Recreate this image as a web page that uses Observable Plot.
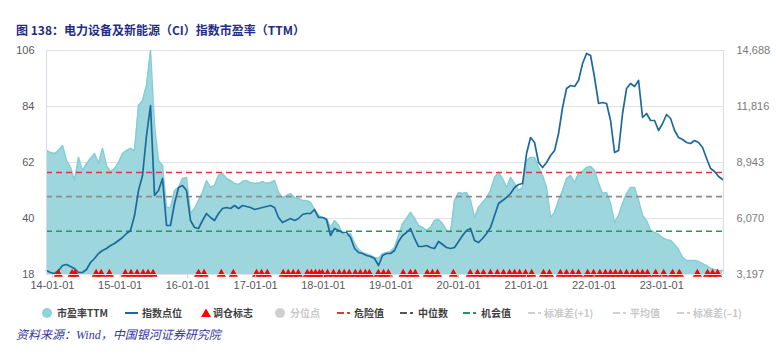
<!DOCTYPE html>
<html><head><meta charset="utf-8">
<script src="https://cdn.jsdelivr.net/npm/d3@7"></script>
<script src="https://cdn.jsdelivr.net/npm/@observablehq/plot@0.6"></script>
<style>
body{margin:0;background:#fff;}
#wrap{position:relative;width:776px;height:355px;overflow:hidden;font-family:"Noto Sans CJK SC","Liberation Sans",sans-serif;}
#title{position:absolute;left:16px;top:21px;font-size:12px;font-weight:bold;color:#1F2D86;font-family:"Noto Sans CJK SC",sans-serif;white-space:nowrap;}
#chart{position:absolute;left:0;top:40px;}
.lg{position:absolute;top:306px;font-size:10px;font-weight:600;color:#404040;white-space:nowrap;line-height:14px;}
.lg.off{color:#C8C8C8;}
.mk{position:absolute;}
#source{position:absolute;left:16px;top:325px;font-size:12px;font-style:italic;color:#3535A5;font-family:"Liberation Serif","Noto Sans CJK SC",serif;white-space:nowrap;}
</style></head>
<body><div id="wrap">
<div id="title">图 138：电力设备及新能源（CI）指数市盈率（TTM）</div>
<div id="chart"></div>
<div id="legend"></div>
<div id="source">资料来源：Wind，中国银河证券研究院</div>
</div>
<script>
// ---- data ----
const seriesStart = "2013-11-30";
const seriesStepDays = 21.58;
const peValues = [66.7,65.9,65.5,66.7,68.7,62.8,60.0,54.9,64.0,58.9,61.6,63.6,65.5,61.6,67.5,60.8,58.5,59.6,62.0,65.5,66.7,67.5,66.7,84.4,86.4,92.3,106,76.5,62.8,60.8,44.3,44.3,51.0,52.2,55.7,56.1,42.0,43.9,47.1,50.2,54.9,52.2,53.0,56.9,57.7,55.7,54.9,53.8,53.4,54.5,54.9,54.1,53.8,53.8,54.5,53.8,54.1,54.9,50.2,48.2,49.0,49.8,48.2,47.9,47.1,47.1,46.3,43.5,41.2,40.4,40.0,36.5,39.2,37.3,34.1,33.3,34.1,30.2,27.8,26.6,26.2,25.5,24.7,24.3,26.2,26.6,27.0,28.6,33.3,38.0,40.0,42.4,40.0,37.3,36.5,35.3,36.5,39.2,39.6,38.0,35.3,34.5,47.1,50.2,49.8,50.2,47.1,40.4,44.3,46.3,48.2,51.0,56.1,58.1,55.7,52.2,56.1,53.8,51.0,52.2,62.8,64.0,64.0,60.0,56.9,52.2,40.4,42.4,47.1,51.0,55.7,56.9,54.1,57.7,58.5,60.0,60.4,58.9,53.8,49.8,50.2,45.9,38.4,41.2,45.9,49.8,52.2,52.2,47.1,41.2,39.2,35.3,34.5,33.7,32.5,31.7,31.4,29.8,27.8,24.7,23.5,23.5,23.5,23.1,22.3,21.5,20.4,20.0,19.6,19.6];
const indexValues = [3402,3299,3248,3402,3658,3710,3607,3505,3299,3299,3453,3812,4018,4274,4428,4531,4684,4787,4941,5095,5300,5454,6223,7506,8275,10327,11866,7249,7506,8122,5710,5710,6839,7660,7762,7506,5967,5608,5557,5967,6326,6121,5967,6326,6583,6634,6583,6736,6583,6736,6685,6634,6531,6583,6634,6685,6736,6634,6121,5864,5967,6070,5967,6070,6275,6326,6326,6531,6121,6121,6018,5197,5557,5454,5351,5351,5095,4531,4325,4274,4171,4120,4018,3658,4171,4274,4274,4428,4890,5197,5351,5557,5044,4633,4633,4684,4582,4531,4890,4736,4582,4531,4582,4890,5197,5454,5557,4941,4838,5044,5300,5608,6223,6839,6993,7147,7352,7660,7814,7865,9404,10225,9968,8942,8686,8942,9301,9558,10430,11764,12739,12892,12841,13149,14021,14534,14431,13303,11969,12020,11969,11097,9455,9558,11456,12739,12995,12841,13149,11251,11456,11097,11097,10584,10943,11405,11200,10584,10225,10122,9968,9917,10071,9968,9712,9148,8635,8481,8224,8070];
const rebalanceDates = ["2014-02-02","2014-04-17","2014-05-03","2014-08-25","2014-09-21","2014-11-04","2015-01-29","2015-03-01","2015-04-03","2015-05-05","2015-06-01","2015-06-28","2016-02-28","2016-03-29","2016-06-30","2016-09-03","2017-01-06","2017-02-02","2017-03-05","2017-05-30","2017-06-26","2017-07-23","2017-08-19","2017-10-07","2017-10-29","2017-11-20","2017-12-11","2017-12-27","2018-01-24","2018-02-25","2018-03-28","2018-04-24","2018-05-21","2018-06-23","2018-07-20","2018-08-16","2018-09-07","2018-10-25","2018-11-22","2018-12-18","2019-03-08","2019-04-16","2019-05-12","2019-07-16","2019-08-13","2019-09-09","2019-12-04","2020-03-04","2020-04-12","2020-05-14","2020-06-21","2020-07-28","2020-08-30","2020-10-02","2020-10-29","2020-11-25","2020-12-27","2021-01-29","2021-04-03","2021-05-05","2021-07-03","2021-08-05","2021-09-07","2021-10-09","2021-11-27","2021-12-29","2022-02-01","2022-03-03","2022-03-30","2022-04-26","2022-05-23","2022-06-25","2022-07-27","2022-08-23","2022-09-19","2022-10-16","2022-11-29","2023-01-11","2023-02-28","2023-04-06","2023-07-12","2023-09-05","2023-10-02","2023-10-29"];
const dangerValue = 58.1, medianValue = 48.6, opportunityValue = 35.0;
const leftTicks = [18,40,62,84,106];
const rightTicks = [3197,6070,8943,11816,14688];
const rightTickLabels = ["3,197","6,070","8,943","11,816","14,688"];
const xTickDates = ["2014-01-01","2015-01-01","2016-01-01","2017-01-01","2018-01-01","2019-01-01","2020-01-01","2021-01-01","2022-01-01","2023-01-01"];
const xDomain = ["2013-11-30","2023-11-30"];

// ---- build ----
const t0 = new Date(seriesStart + "T00:00:00Z").getTime();
const rows = peValues.map((pe, i) => ({
  date: new Date(t0 + i * seriesStepDays * 864e5),
  pe, idx: indexValues[i]
}));
const toLeft = v => 18 + (v - rightTicks[0]) / (rightTicks[rightTicks.length-1] - rightTicks[0]) * 88;
const rebal = rebalanceDates.map(s => ({date: new Date(s + "T00:00:00Z")}));
const pd = s => new Date(s + "T00:00:00Z");

const chart = Plot.plot({
  width: 776, height: 256,
  marginLeft: 46, marginRight: 53, marginTop: 10, marginBottom: 22,
  style: {fontFamily: "'Liberation Sans', Arial, sans-serif", fontSize: "11px", color: "#595959", background: "transparent"},
  x: {type: "utc", domain: xDomain.map(pd), label: null},
  y: {domain: [18, 106], label: null},
  marks: [
    Plot.ruleY([40, 62, 84, 106], {stroke: "#E2E2E2", strokeWidth: 1}),
    Plot.areaY(rows, {x: "date", y1: 18, y2: "pe", fill: "#9DD6DD", curve: "linear"}),
    Plot.lineY(rows, {x: "date", y: "pe", stroke: "#86CED7", strokeWidth: 1.5}),
    Plot.ruleY([dangerValue], {stroke: "#E0373A", strokeWidth: 1.6, strokeDasharray: "6,4"}),
    Plot.ruleY([medianValue], {stroke: "#8C8C8C", strokeWidth: 1.6, strokeDasharray: "6,4"}),
    Plot.ruleY([opportunityValue], {stroke: "#22995A", strokeWidth: 1.6, strokeDasharray: "6,4"}),
    Plot.lineY(rows, {x: "date", y: d => toLeft(d.idx), stroke: "#1C6A9C", strokeWidth: 1.7}),
    Plot.dot(rebal, {x: "date", y: () => 18, symbol: "triangle", fill: "#FF0000", r: 3.4, dy: -0.5}),
    Plot.ruleX([pd(xDomain[0]), pd(xDomain[1])], {stroke: "#D6DCE6", strokeWidth: 1}),
    Plot.ruleY([18], {stroke: "#E2E2E2"}),
    Plot.axisY({anchor: "left", ticks: leftTicks, tickSize: 0, tickPadding: 12, fill: "#595959", label: null}),
    Plot.axisY({anchor: "right", ticks: leftTicks, tickSize: 0, tickPadding: 13, fill: "#7A7A7A", label: null,
      tickFormat: d => rightTickLabels[leftTicks.indexOf(d)], textAnchor: "start"}),
    Plot.axisX({ticks: xTickDates.map(pd), tickFormat: d3.utcFormat("%y-%m-%d"), tickSize: 4, stroke: "#D0D0D0", tickPadding: 3, fill: "#595959", label: null})
  ]
});
document.getElementById("chart").appendChild(chart);

// ---- legend ----
const legendItems = [
  {label: "市盈率TTM", mark: "circle", color: "#8FD3DB", mx: 47, tx: 57},
  {label: "指数点位", mark: "line", color: "#1C6A9C", mx: 125, tx: 142},
  {label: "调仓标志", mark: "triangle", color: "#FF0000", mx: 206, tx: 213},
  {label: "分位点", mark: "circle", color: "#CFCFCF", mx: 280, tx: 290, off: true},
  {label: "危险值", mark: "dash", color: "#E0373A", mx: 337, tx: 354},
  {label: "中位数", mark: "dash", color: "#555555", mx: 400, tx: 418},
  {label: "机会值", mark: "dash", color: "#22995A", mx: 463, tx: 481},
  {label: "标准差(+1)", mark: "dash", color: "#D0D0D0", mx: 528, tx: 544, off: true},
  {label: "平均值", mark: "dash", color: "#D0D0D0", mx: 613, tx: 630, off: true},
  {label: "标准差(–1)", mark: "dash", color: "#D0D0D0", mx: 677, tx: 693, off: true}
];
const lg = document.getElementById("legend");
const cy = 313;
legendItems.forEach(it => {
  const s = document.createElementNS("http://www.w3.org/2000/svg", "svg");
  s.setAttribute("class", "mk");
  s.setAttribute("width", 16); s.setAttribute("height", 12);
  let left;
  if (it.mark === "circle") {
    left = it.mx - 6;
    s.innerHTML = `<circle cx="6" cy="6" r="5" fill="${it.color}"/>`;
  } else if (it.mark === "triangle") {
    left = it.mx - 6;
    s.innerHTML = `<path d="M6,1.5 L11,10 L1,10 Z" fill="${it.color}"/>`;
  } else if (it.mark === "line") {
    left = it.mx;
    s.innerHTML = `<line x1="0" x2="13" y1="6" y2="6" stroke="${it.color}" stroke-width="2"/>`;
  } else {
    left = it.mx;
    s.innerHTML = `<line x1="0" x2="7" y1="6" y2="6" stroke="${it.color}" stroke-width="2"/><line x1="10" x2="13" y1="6" y2="6" stroke="${it.color}" stroke-width="2"/>`;
  }
  s.style.left = left + "px"; s.style.top = (cy - 6) + "px";
  lg.appendChild(s);
  const t = document.createElement("div");
  t.className = "lg" + (it.off ? " off" : "");
  t.style.left = it.tx + "px";
  t.textContent = it.label;
  lg.appendChild(t);
});
</script>
</body></html>
